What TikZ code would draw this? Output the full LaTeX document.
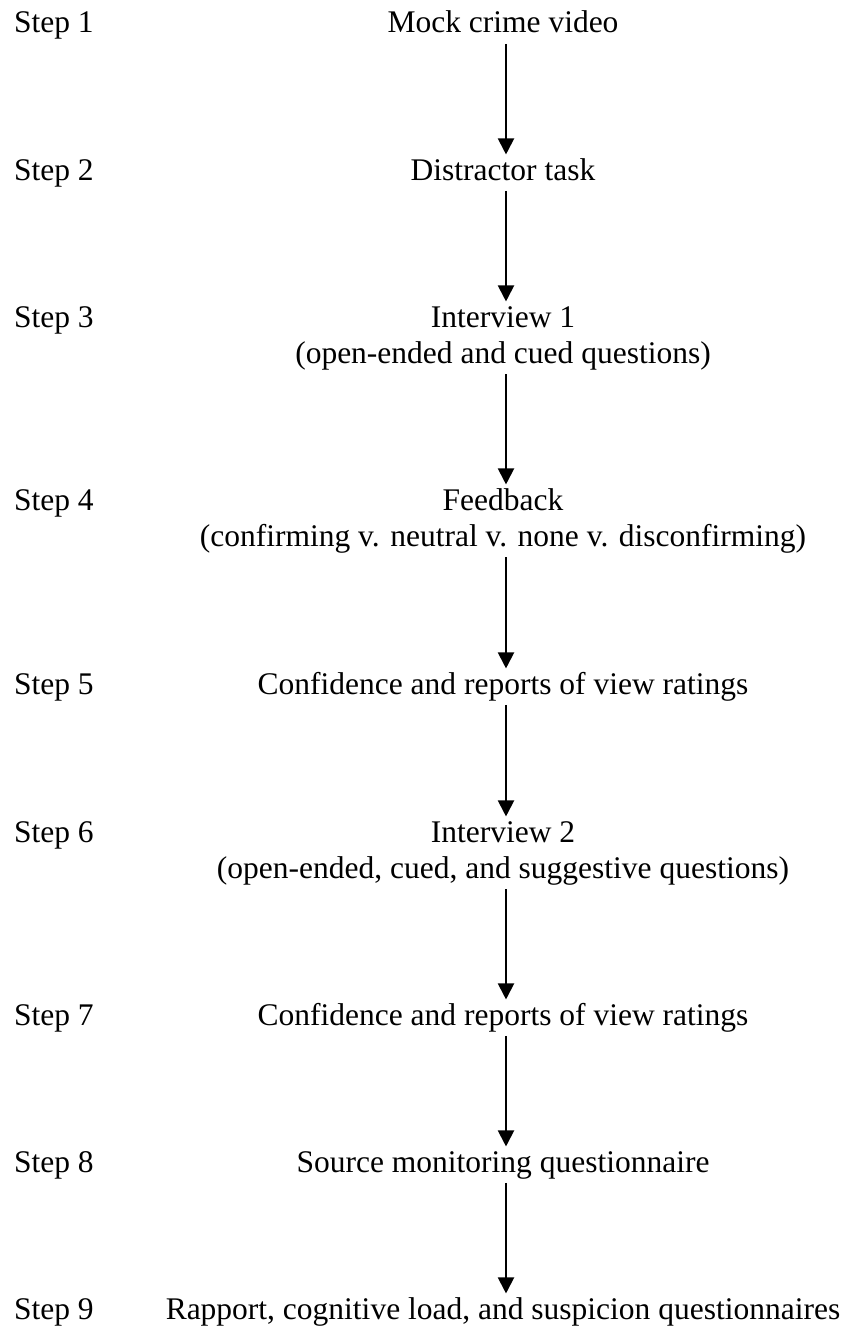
\documentclass[tikz,border=0pt]{standalone}
\usepackage{fontspec}
\setmainfont{Liberation Serif}
\usetikzlibrary{arrows.meta}
\newcommand\mainfs{\fontsize{31.5}{36.5}\selectfont}
\newcommand\lnst{\strut}
\tikzset{
  stepbody/.style={font=\mainfs, inner sep=0pt, outer sep=0pt, align=center, anchor=north},
  steplabel/.style={font=\mainfs, inner sep=0pt, outer sep=0pt, anchor=base west},
  flow/.style={line width=2pt, -{Triangle[length=16pt,width=16pt]}},
}
\begin{document}
\begin{tikzpicture}[x=1pt,y=-1pt]
\useasboundingbox (0,0) rectangle (854,1330);
\fill[white] (0,0) rectangle (854,1330);
% step labels
\node[steplabel] (s1) at (14,33) {Step 1};
\node[steplabel] (s2) at (14,180) {Step 2};
\node[steplabel] (s3) at (14,327) {Step 3};
\node[steplabel] (s4) at (14,510) {Step 4};
\node[steplabel] (s5) at (14,694) {Step 5};
\node[steplabel] (s6) at (14,842) {Step 6};
\node[steplabel] (s7) at (14,1025) {Step 7};
\node[steplabel] (s8) at (14,1172) {Step 8};
\node[steplabel] (s9) at (14,1319) {Step 9};
% step contents
\node[stepbody] (n1) at (503,7.45) {\lnst Mock crime video};
\node[stepbody] (n2) at (503,154.45) {\lnst Distractor task};
\node[stepbody] (n3) at (503,301.45) {\lnst Interview 1\\\lnst(open-ended and cued questions)};
\node[stepbody] (n4) at (503,484.45) {\lnst Feedback\\\lnst(confirming v. neutral v. none v. disconfirming)};
\node[stepbody] (n5) at (503,668.45) {\lnst Confidence and reports of view ratings};
\node[stepbody] (n6) at (503,816.45) {\lnst Interview 2\\\lnst(open-ended, cued, and suggestive questions)};
\node[stepbody] (n7) at (503,999.45) {\lnst Confidence and reports of view ratings};
\node[stepbody] (n8) at (503,1146.45) {\lnst Source monitoring questionnaire};
\node[stepbody] (n9) at (503,1293.45) {\lnst Rapport, cognitive load, and suspicion questionnaires};
% arrows
\foreach \a/\b in {n1/n2,n2/n3,n3/n4,n4/n5,n5/n6,n6/n7,n7/n8,n8/n9}
  \draw[flow] ([xshift=3pt]\a.south) -- ([xshift=3pt]\b.north);
\end{tikzpicture}
\end{document}
